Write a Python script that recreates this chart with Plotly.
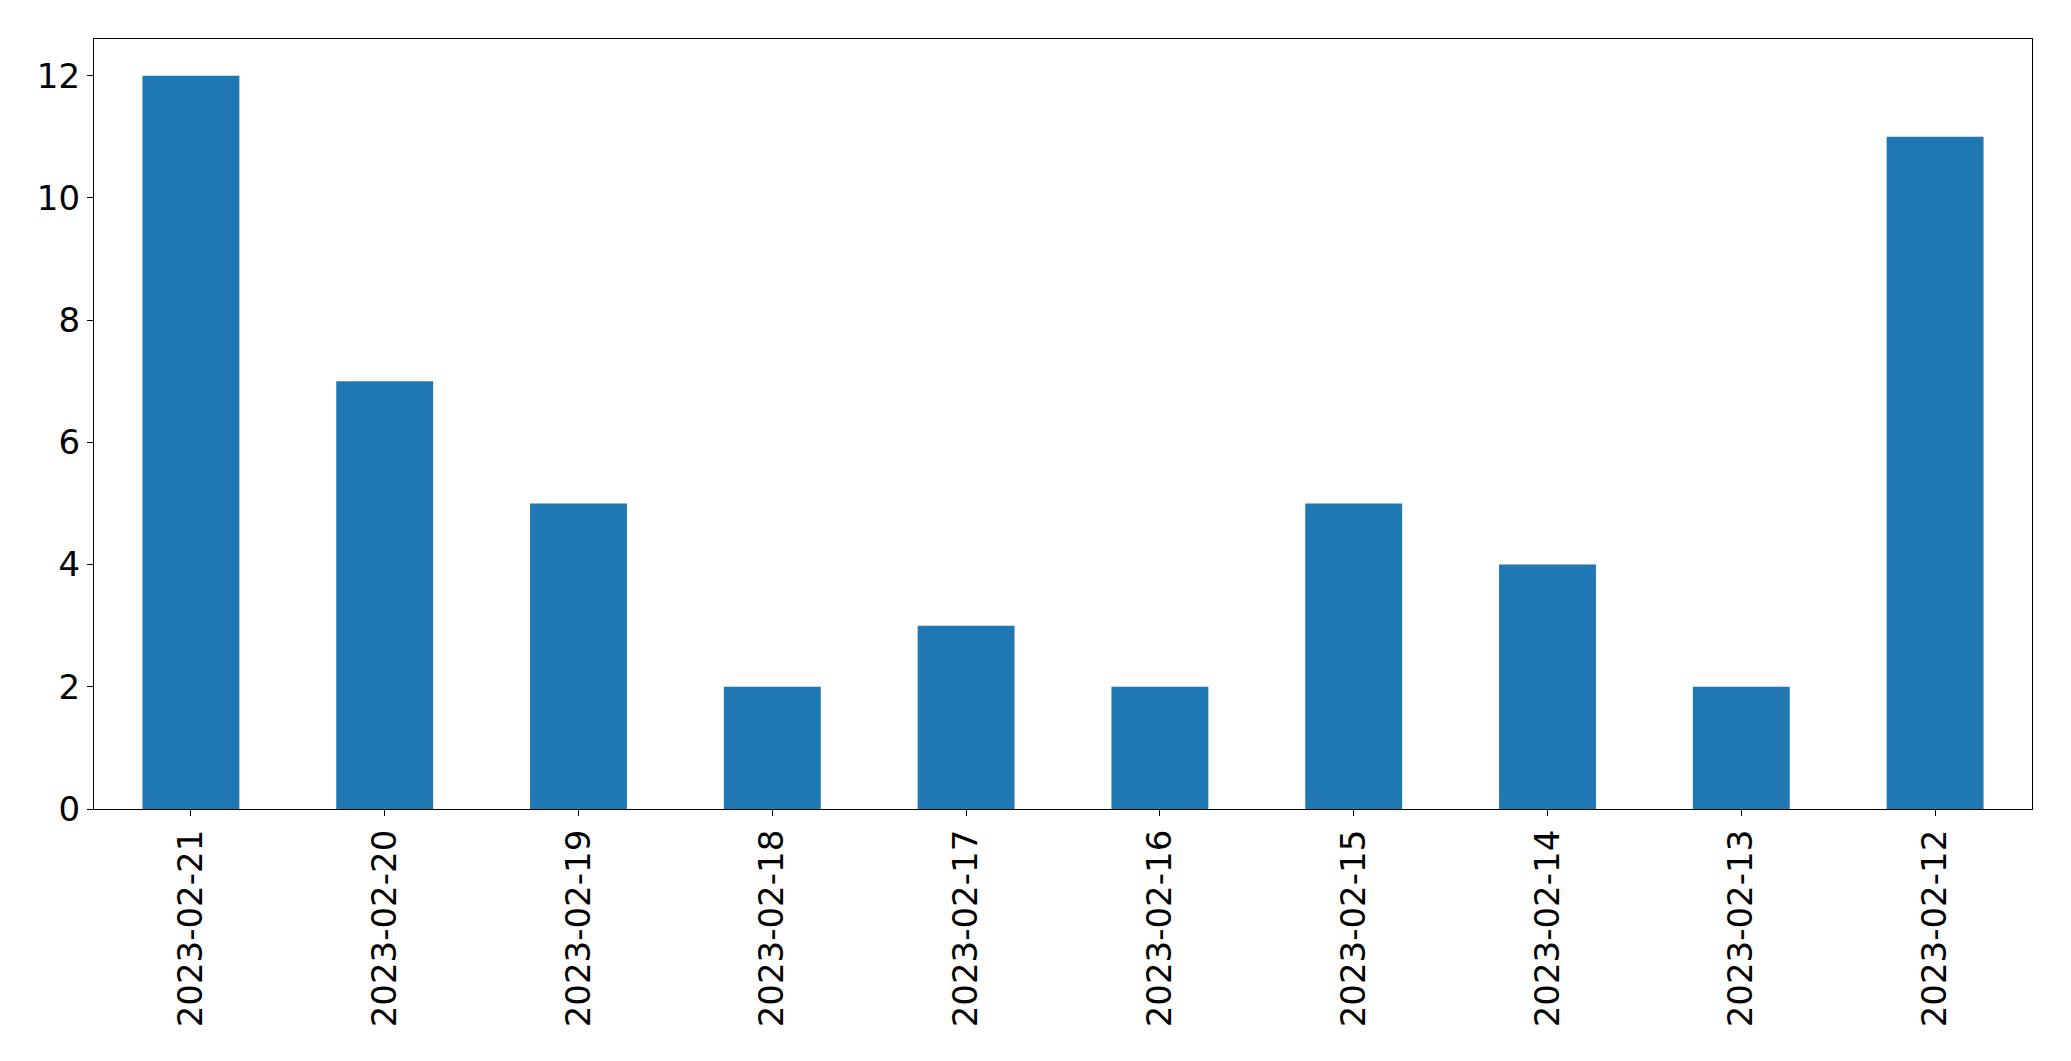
import plotly.graph_objects as go

dates = ["2023-02-21", "2023-02-20", "2023-02-19", "2023-02-18", "2023-02-17",
         "2023-02-16", "2023-02-15", "2023-02-14", "2023-02-13", "2023-02-12"]
counts = [12, 7, 5, 2, 3, 2, 5, 4, 2, 11]
y_ticks = [0, 2, 4, 6, 8, 10, 12]

fig = go.Figure(go.Bar(x=list(range(len(dates))), y=counts, width=0.5,
                       marker=dict(color="#1f77b4", line=dict(width=0))))

font = dict(family="DejaVu Sans", size=34, color="black")
fig.update_layout(
    width=2071, height=1061,
    margin=dict(l=94, r=39, t=39, b=252),
    paper_bgcolor="white", plot_bgcolor="white",
    showlegend=False,
    font=font,
    xaxis=dict(range=[-0.5, 9.5], tickmode="array", tickvals=list(range(len(dates))),
               ticktext=dates, tickangle=-90, ticks="outside", ticklen=6, tickwidth=1.3,
               tickcolor="black", showline=True, linecolor="black", linewidth=1.3,
               mirror=True, showgrid=False, zeroline=False, tickfont=font),
    yaxis=dict(range=[0, 12.6], tickmode="array", tickvals=y_ticks,
               ticks="outside", ticklen=6, tickwidth=1.3, tickcolor="black",
               showline=True, linecolor="black", linewidth=1.3, mirror=True,
               showgrid=False, zeroline=False, tickfont=font),
)
fig.write_html("out.html")
